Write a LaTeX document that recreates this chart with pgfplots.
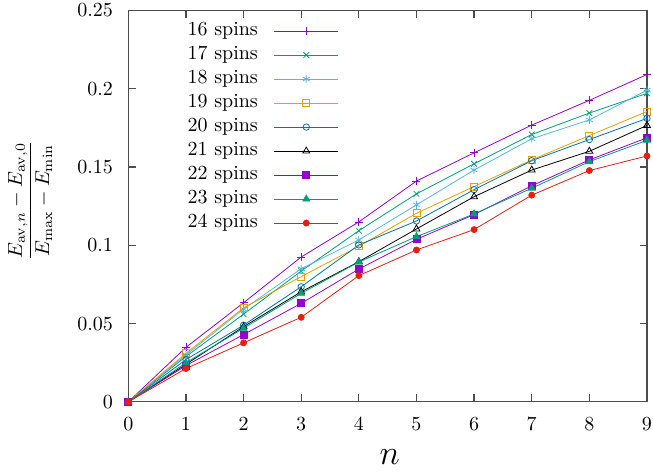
\documentclass[border=0pt]{standalone}
\usepackage{pgfplots}
\usepackage{pgfplotstable}
\pgfplotsset{compat=1.18}
\definecolor{c1}{HTML}{9400D3}
\definecolor{c2}{HTML}{009E73}
\definecolor{c3}{HTML}{56B4E9}
\definecolor{c4}{HTML}{E69F00}
\definecolor{c5}{HTML}{0072B2}
\definecolor{c6}{HTML}{000000}
\definecolor{c7}{HTML}{E51E10}
\pgfplotstableread{
n s16 s17 s18 s19 s20 s21 s22 s23 s24
0 0 0 0 0 0 0 0 0 0
1 0.0348 0.0290 0.0300 0.0310 0.0270 0.0240 0.0232 0.0250 0.0213
2 0.0633 0.0560 0.0592 0.0600 0.0490 0.0480 0.0430 0.0470 0.0377
3 0.0925 0.0835 0.0850 0.0800 0.0735 0.0703 0.0629 0.0693 0.0540
4 0.1149 0.1093 0.1034 0.0993 0.1002 0.0895 0.0848 0.0893 0.0806
5 0.1410 0.1328 0.1258 0.1204 0.1155 0.1104 0.1038 0.1055 0.0970
6 0.1590 0.1520 0.1480 0.1375 0.1355 0.1310 0.1196 0.1200 0.1100
7 0.1767 0.1707 0.1680 0.1545 0.1540 0.1480 0.1380 0.1364 0.1320
8 0.1925 0.1844 0.1800 0.1700 0.1675 0.1600 0.1545 0.1534 0.1477
9 0.2090 0.1970 0.1990 0.1854 0.1810 0.1765 0.1686 0.1670 0.1570
}\datatable
\begin{document}
\begin{tikzpicture}
\begin{axis}[
  name=ax,
  scale only axis,
  width=259.35pt, height=195.8pt,
  xmin=0, xmax=9, ymin=0, ymax=0.25,
  xtick={0,1,...,9},
  ytick={0,0.05,0.1,0.15,0.2,0.25},
  scaled y ticks=false,
  yticklabel style={/pgf/number format/fixed, /pgf/number format/precision=2, xshift=-4.2pt},
  xticklabel style={yshift=-4.3pt},
  tick align=inside,
  xtick pos=both, ytick pos=both,
  ticklabel pos=left,
  major tick length=3.7pt,
  axis line style={black!70, line width=0.6pt},
  tick style={black!70, line width=0.6pt},
  xlabel={$n$},
  xlabel style={at={(axis description cs:0.504,-0.1417)}, anchor=center, font=\LARGE},
  ylabel={$\displaystyle\frac{E_{\mathrm{av},n}-E_{\mathrm{av},0}}{E_{\max}-E_{\min}}$},
  ylabel style={at={(axis description cs:-0.189,0.514)}, anchor=center, rotate=0},
  legend cell align=right,
  legend plot pos=right,
  legend image code/.code={
    \draw[mark repeat=2, mark phase=2] plot coordinates {(0pt,0pt) (16pt,0pt) (32pt,0pt)};
  },
  legend style={at={(axis description cs:0.1137,0.9786)}, anchor=north west,
    draw=none, fill=none, inner sep=0pt, row sep=0pt, column sep=8pt,
    nodes={inner sep=0pt, text height=8pt, text depth=4pt}},
  every axis plot/.append style={line width=0.4pt},
]
\addplot[c1, mark=+, mark size=2pt] table[x=n, y=s16] {\datatable};
\addlegendentry{16 spins}
\addplot[c2, mark=x, mark size=2pt] table[x=n, y=s17] {\datatable};
\addlegendentry{17 spins}
\addplot[c3, mark=asterisk, mark size=2pt] table[x=n, y=s18] {\datatable};
\addlegendentry{18 spins}
\addplot[c4, mark=square, mark size=1.75pt] table[x=n, y=s19] {\datatable};
\addlegendentry{19 spins}
\addplot[c5, mark=o, mark size=1.6pt] table[x=n, y=s20] {\datatable};
\addlegendentry{20 spins}
\addplot[c6, mark=triangle, mark size=2pt] table[x=n, y=s21] {\datatable};
\addlegendentry{21 spins}
\addplot[c1, mark=square*, mark size=1.75pt] table[x=n, y=s22] {\datatable};
\addlegendentry{22 spins}
\addplot[c2, mark=triangle*, mark size=2pt] table[x=n, y=s23] {\datatable};
\addlegendentry{23 spins}
\addplot[c7, mark=*, mark size=1.5pt] table[x=n, y=s24] {\datatable};
\addlegendentry{24 spins}
\end{axis}
\pgfresetboundingbox
\path[use as bounding box] ([xshift=-64.15pt, yshift=-36.35pt]ax.south west) rectangle ([xshift=3pt, yshift=5.15pt]ax.north east);
\end{tikzpicture}
\end{document}
